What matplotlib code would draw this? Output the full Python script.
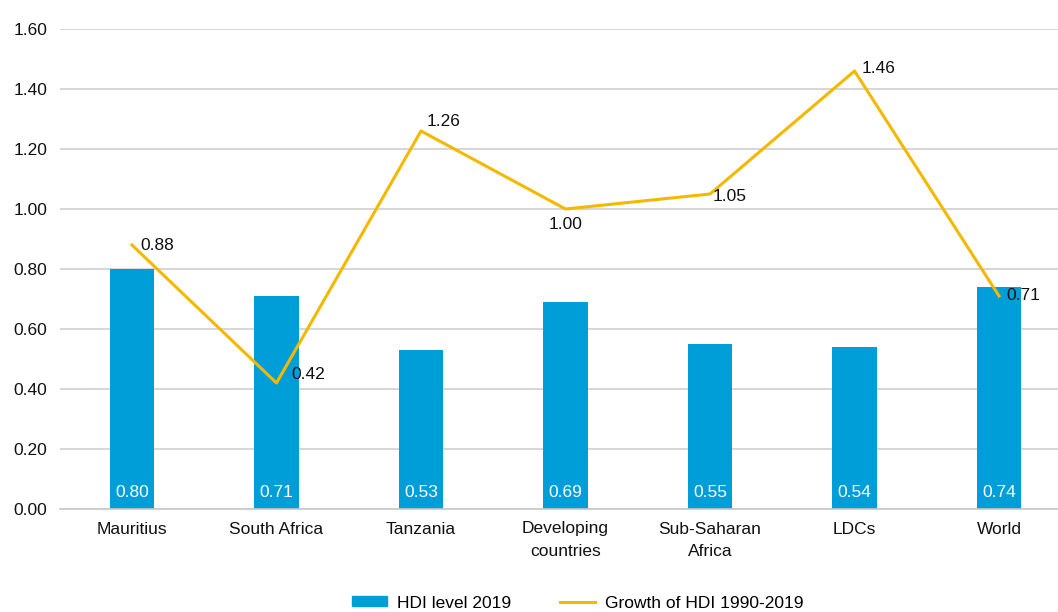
import numpy as np
import matplotlib.pyplot as plt
from matplotlib.lines import Line2D
from matplotlib.patches import Patch

plt.rcParams['font.family'] = ['Liberation Sans Narrow', 'Liberation Sans', 'DejaVu Sans']

categories = ['Mauritius', 'South Africa', 'Tanzania', 'Developing\ncountries',
              'Sub-Saharan\nAfrica', 'LDCs', 'World']
hdi_2019 = [0.80, 0.71, 0.53, 0.69, 0.55, 0.54, 0.74]
hdi_growth = [0.88, 0.42, 1.26, 1.00, 1.05, 1.46, 0.71]

# label offsets (points) for the growth line annotations
growth_offsets = [(6, 0), (11, 6), (4, 7), (0, -11.5), (2, -1.5), (5, 1.5), (5, 0)]
growth_ha = ['left', 'left', 'left', 'center', 'left', 'left', 'left']

blue = '#009ED8'
yellow = '#F5B800'

fig = plt.figure(figsize=(10.58, 6.12), dpi=100)
ax = fig.add_axes([60 / 1058, 103 / 612, 998 / 1058, 480 / 612])

x = np.arange(len(categories))
ax.bar(x, hdi_2019, width=0.31, color=blue, zorder=2)
ax.plot(x, hdi_growth, color=yellow, lw=2.2, zorder=3)

for xi, v in zip(x, hdi_2019):
    ax.text(xi, 0.055, f'{v:.2f}', color='white', ha='center', va='center',
            fontsize=12.5, zorder=4)

for xi, v, off, ha in zip(x, hdi_growth, growth_offsets, growth_ha):
    ax.annotate(f'{v:.2f}', (xi, v), xytext=off, textcoords='offset points',
                ha=ha, va='center', fontsize=12.5, color='#111111', zorder=5)

ax.set_xlim(-0.498, 6.408)
ax.set_ylim(0, 1.6)
ax.set_yticks(np.arange(0, 1.61, 0.2))
ax.set_yticklabels([f'{t:.2f}' for t in np.arange(0, 1.61, 0.2)])
ax.set_xticks(x)
ax.set_xticklabels(categories, linespacing=1.6)
ax.tick_params(axis='both', length=0, labelsize=12.5, colors='#111111')
ax.tick_params(axis='y', pad=9)
ax.tick_params(axis='x', pad=9)
ax.grid(axis='y', color='#d0d0d0', lw=1.2, zorder=0)
ax.set_axisbelow(True)
for s in ['top', 'right', 'left']:
    ax.spines[s].set_visible(False)
ax.spines['bottom'].set_color('#c8c8c8')
ax.spines['bottom'].set_linewidth(1.2)

handles = [Patch(color=blue, label='HDI level 2019'),
           Line2D([0], [0], color=yellow, lw=2.2, label='Growth of HDI 1990-2019')]
fig.legend(handles=handles, loc='center', bbox_to_anchor=(578 / 1058, 1 - 603 / 612),
           ncol=2, frameon=False, fontsize=12.5, handlelength=2.0, handleheight=0.5,
           handletextpad=0.6, columnspacing=2.8)

fig.savefig('out.png', dpi=100)
